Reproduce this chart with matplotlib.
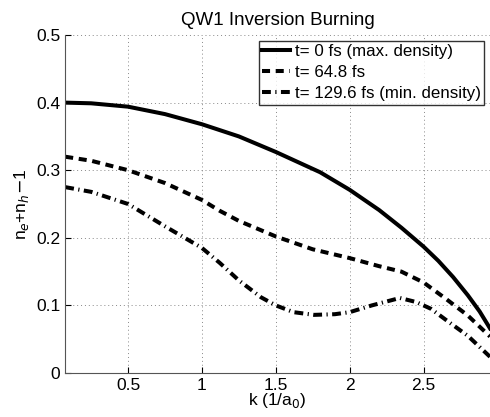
import numpy as np
import matplotlib
matplotlib.use("Agg")
import matplotlib.pyplot as plt

plt.rcParams['font.family'] = ['Liberation Sans', 'DejaVu Sans']

# values
k0 = [0.074, 0.25, 0.5, 0.75, 1.0, 1.25, 1.5, 1.65, 1.8, 2.0, 2.2, 2.35, 2.5, 2.6, 2.7, 2.8, 2.88, 2.95]
t0 = [0.400, 0.399, 0.394, 0.383, 0.368, 0.350, 0.327, 0.312, 0.297, 0.271, 0.241, 0.215, 0.187, 0.166, 0.142, 0.115, 0.091, 0.066]

k1 = [0.074, 0.25, 0.5, 0.75, 1.0, 1.12, 1.25, 1.5, 1.75, 2.0, 2.2, 2.35, 2.5, 2.65, 2.8, 2.95]
t64 = [0.320, 0.314, 0.300, 0.281, 0.256, 0.240, 0.225, 0.202, 0.183, 0.170, 0.158, 0.150, 0.134, 0.110, 0.085, 0.054]

k2 = [0.074, 0.25, 0.5, 0.75, 1.0, 1.12, 1.25, 1.4, 1.5, 1.62, 1.76, 1.9, 2.0, 2.15, 2.34, 2.45, 2.55, 2.68, 2.8, 2.95]
t129 = [0.275, 0.268, 0.250, 0.217, 0.185, 0.163, 0.137, 0.112, 0.100, 0.090, 0.086, 0.087, 0.090, 0.100, 0.111, 0.105, 0.095, 0.074, 0.055, 0.024]

labels = ['t= 0 fs (max. density)', 't= 64.8 fs', 't= 129.6 fs (min. density)']

fig = plt.figure(figsize=(4.9, 4.17), dpi=100)
ax = fig.add_axes([0.133, 0.1055, 0.867, 0.8105])

ax.plot(k0, t0, color='black', lw=2.9, ls='-', label=labels[0])
ax.plot(k1, t64, color='black', lw=2.9, ls=(0, (2, 1.4)), label=labels[1])
ax.plot(k2, t129, color='black', lw=2.9, ls=(0, (2.2, 1.1, 0.3, 1.1)), label=labels[2])

ax.set_xlim(0.074, 2.95)
ax.set_ylim(0, 0.5)
ax.set_xticks([0.5, 1, 1.5, 2, 2.5])
ax.set_xticklabels(['0.5', '1', '1.5', '2', '2.5'])
ax.set_yticks([0, 0.1, 0.2, 0.3, 0.4, 0.5])
ax.set_yticklabels(['0', '0.1', '0.2', '0.3', '0.4', '0.5'])
ax.grid(True, color='#888888', ls=(0, (1, 3)), lw=0.7)
ax.tick_params(direction='in', labelsize=12.5, length=4, width=0.8)
ax.spines['top'].set_visible(False)
ax.spines['right'].set_visible(False)
ax.spines['left'].set_color('#555555')
ax.spines['bottom'].set_color('#555555')

ax.set_title('QW1 Inversion Burning', fontsize=13.5, pad=7)
ax.set_xlabel(r'k (1/a$_0$)', fontsize=12.5, labelpad=-1)
ax.set_ylabel(r'n$_e$+n$_h$$-$1', fontsize=12.5, labelpad=4)

leg = ax.legend(loc='upper right', fontsize=12.2, frameon=True, fancybox=False,
                edgecolor='black', handlelength=1.6, handletextpad=0.3,
                borderpad=0.2, labelspacing=0.35, borderaxespad=0.35)
leg.get_frame().set_linewidth(1.0)

fig.savefig('out.png', dpi=100)
